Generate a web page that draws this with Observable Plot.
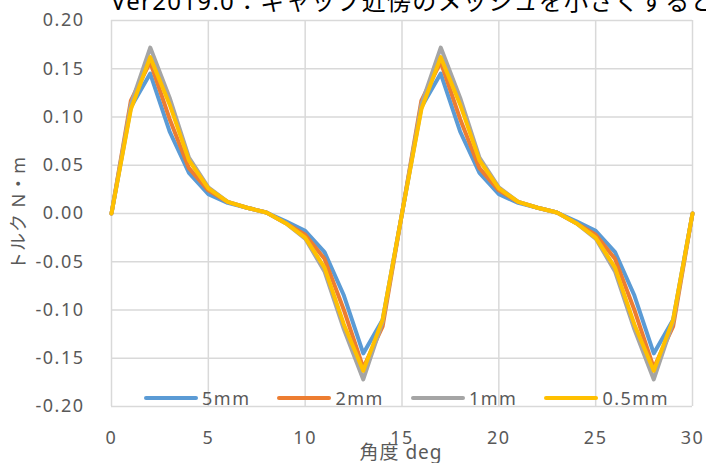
<!DOCTYPE html>
<html>
<head>
<meta charset="utf-8">
<script src="https://cdn.jsdelivr.net/npm/d3@7"></script>
<script src="https://cdn.jsdelivr.net/npm/@observablehq/plot@0.6"></script>
<style>
  body { margin: 0; background: #fff; }
  #wrap { position: relative; width: 706px; height: 463px; overflow: hidden; background: #fff;
          font-family: "Noto Sans", "Noto Sans CJK JP", sans-serif; }
  #wrap svg text { letter-spacing: 1.5px; }
  .title { position: absolute; left: 111px; top: -11px; font-size: 24px; line-height: 24px;
           white-space: nowrap; color: #000; letter-spacing: 1.3px; }
  .ytitle { position: absolute; left: 18px; top: 213px; font-size: 18px; line-height: 20px; color: #595959;
            white-space: nowrap; transform: translate(-50%, -50%) rotate(-90deg); letter-spacing: 1px; }
  .xtitle { position: absolute; left: 401px; top: 452px; font-size: 19px; line-height: 20px; color: #595959;
            white-space: nowrap; transform: translate(-50%, -50%); letter-spacing: 1px; }
  .legend { position: absolute; left: 144px; top: 388px; height: 20px; display: flex; align-items: center;
            gap: 27px; font-size: 18px; line-height: 20px; color: #595959; letter-spacing: 1.5px; }
  .legend .item { display: flex; align-items: center; }
  .legend .sw { width: 54px; height: 4px; margin-right: 4px; border-radius: 2px; }
</style>
</head>
<body>
<div id="wrap"></div>
<script>
const titleText = "Ver2019.0：ギャップ近傍のメッシュを小さくすると";
const xTitle = "角度 deg";
const yTitle = "トルク N・m";

const angles = [0,1,2,3,4,5,6,7,8,9,10,11,12,13,14,15,16,17,18,19,20,21,22,23,24,25,26,27,28,29,30];

const mesh5mm = [0, 0.110, 0.145, 0.085, 0.042, 0.020, 0.011, 0.006, 0.001, -0.008, -0.018, -0.040, -0.085, -0.145, -0.110, 0,
                 0.110, 0.145, 0.085, 0.042, 0.020, 0.011, 0.006, 0.001, -0.008, -0.018, -0.040, -0.085, -0.145, -0.110, 0];
const mesh2mm = [0, 0.117, 0.157, 0.098, 0.047, 0.024, 0.012, 0.006, 0.001, -0.010, -0.022, -0.047, -0.100, -0.160, -0.117, 0,
                 0.117, 0.157, 0.098, 0.047, 0.024, 0.012, 0.006, 0.001, -0.010, -0.022, -0.047, -0.100, -0.160, -0.117, 0];
const mesh1mm = [0, 0.113, 0.172, 0.120, 0.058, 0.027, 0.012, 0.006, 0.001, -0.010, -0.026, -0.060, -0.120, -0.172, -0.112, 0,
                 0.113, 0.172, 0.120, 0.058, 0.027, 0.012, 0.006, 0.001, -0.010, -0.026, -0.060, -0.120, -0.172, -0.112, 0];
const mesh05mm = [0, 0.108, 0.162, 0.113, 0.055, 0.026, 0.012, 0.006, 0.001, -0.010, -0.025, -0.056, -0.115, -0.163, -0.110, 0,
                  0.108, 0.162, 0.113, 0.055, 0.026, 0.012, 0.006, 0.001, -0.010, -0.025, -0.056, -0.115, -0.163, -0.110, 0];

const seriesNames = ["5mm", "2mm", "1mm", "0.5mm"];
const seriesValues = [mesh5mm, mesh2mm, mesh1mm, mesh05mm];
const seriesColors = ["#5B9BD5", "#ED7D31", "#A5A5A5", "#FFC000"];

const xTicks = [0, 5, 10, 15, 20, 25, 30];
const yTicks = [-0.20, -0.15, -0.10, -0.05, 0.00, 0.05, 0.10, 0.15, 0.20];

const data = [];
seriesNames.forEach((name, i) => {
  seriesValues[i].forEach((v, j) => data.push({angle: angles[j], torque: v, series: name}));
});

const fontFamily = '"Noto Sans", "Noto Sans CJK JP", sans-serif';

const chart = Plot.plot({
  width: 706,
  height: 463,
  marginLeft: 111,
  marginRight: 14,
  marginTop: 20,
  marginBottom: 57,
  x: {domain: [0, 30]},
  y: {domain: [-0.2, 0.2]},
  color: {domain: seriesNames, range: seriesColors},
  style: {fontFamily, fontSize: "18px", color: "#595959", background: "#fff"},
  marks: [
    Plot.gridX(xTicks, {stroke: "#d9d9d9", strokeOpacity: 1, strokeWidth: 1.5}),
    Plot.gridY(yTicks, {stroke: "#d9d9d9", strokeOpacity: 1, strokeWidth: 1.5}),
    Plot.axisX(xTicks, {tickSize: 0, tickPadding: 25, tickFormat: d => String(d), label: null, fill: "#595959", fontSize: 18}),
    Plot.axisY(yTicks, {tickSize: 0, tickPadding: 27, tickFormat: d => d.toFixed(2), label: null, fill: "#595959", fontSize: 18}),
    Plot.line(data, {x: "angle", y: "torque", z: "series", stroke: "series", strokeWidth: 4,
                     strokeLinejoin: "round", strokeLinecap: "round"})
  ]
});

const wrap = document.getElementById("wrap");
wrap.appendChild(chart);

const t = document.createElement("div");
t.className = "title"; t.textContent = titleText; wrap.appendChild(t);
const yt = document.createElement("div");
yt.className = "ytitle"; yt.textContent = yTitle; wrap.appendChild(yt);
const xt = document.createElement("div");
xt.className = "xtitle"; xt.textContent = xTitle; wrap.appendChild(xt);

const lg = document.createElement("div");
lg.className = "legend";
seriesNames.forEach((name, i) => {
  const item = document.createElement("div"); item.className = "item";
  const sw = document.createElement("span"); sw.className = "sw"; sw.style.background = seriesColors[i];
  const tx = document.createElement("span"); tx.textContent = name;
  item.appendChild(sw); item.appendChild(tx); lg.appendChild(item);
});
wrap.appendChild(lg);
</script>
</body>
</html>
